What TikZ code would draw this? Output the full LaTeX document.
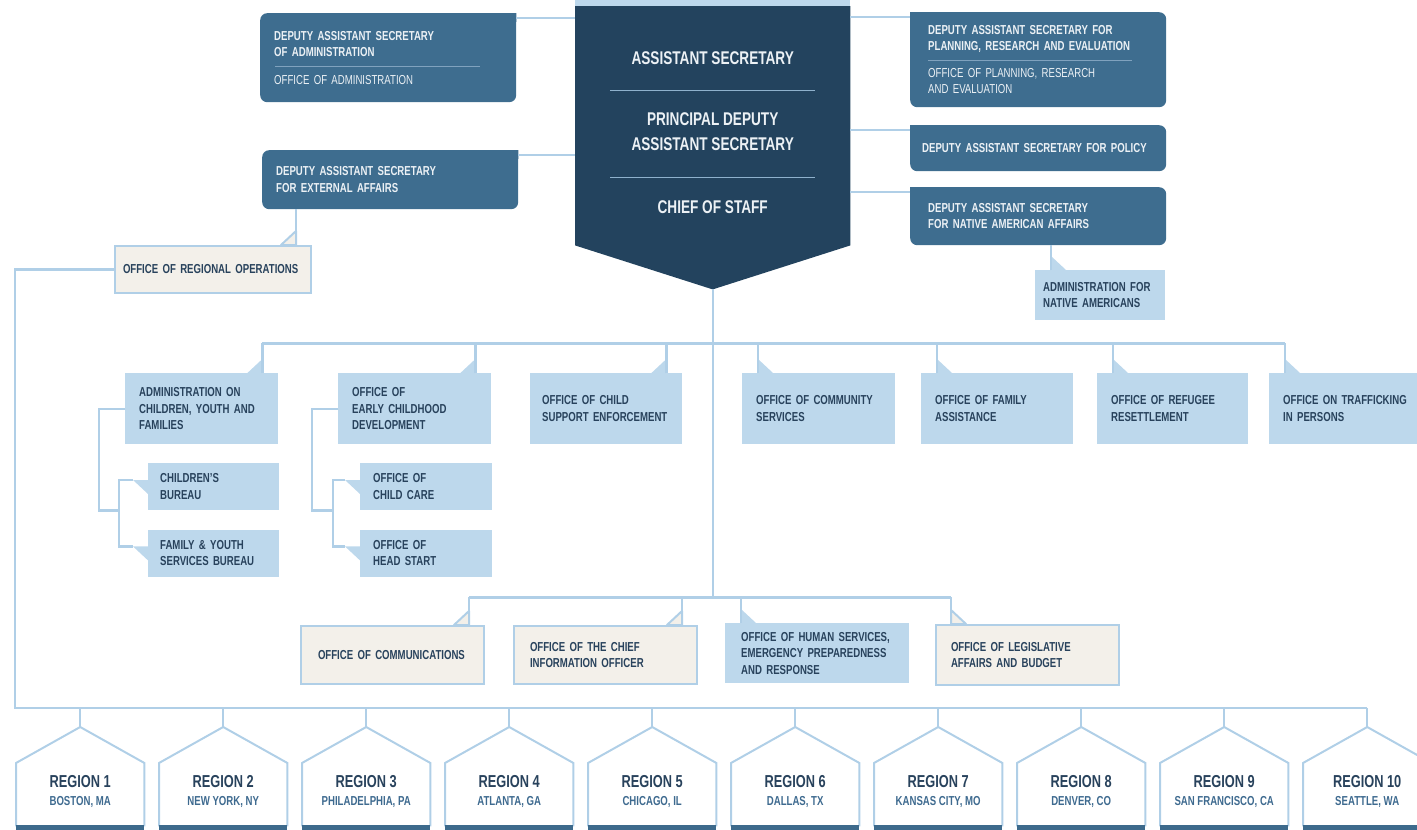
\documentclass[tikz,border=0pt]{standalone}
\usepackage{fontspec}
\setmainfont{Liberation Sans}[FakeStretch=0.74]
\usepackage{tikz}
\usetikzlibrary{positioning, calc}
\definecolor{hubnavy}{RGB}{35,67,94}
\definecolor{dasblue}{RGB}{62,109,143}
\definecolor{lightbox}{RGB}{189,216,236}
\definecolor{linkblue}{RGB}{176,207,231}
\definecolor{cream}{RGB}{243,240,234}
\definecolor{darktext}{RGB}{40,66,92}
\definecolor{citytext}{RGB}{62,106,143}
\definecolor{paletext}{RGB}{236,241,245}
\definecolor{dasrule}{RGB}{128,162,190}
\definecolor{hubrule}{RGB}{143,177,204}
\definecolor{barblue}{RGB}{61,106,140}
\tikzset{link/.style={draw=linkblue, line width=2.4pt}}
\tikzset{box/.style 2 args={anchor=north west, minimum width=#1, minimum height=#2,
    text width=#1-28pt, inner xsep=14pt, inner ysep=0pt, align=left,
    font=\bfseries\fontsize{13}{16.5}\selectfont}}
\tikzset{deputy box/.style={fill=dasblue, text=paletext, rounded corners=7pt}}
\tikzset{office box/.style={fill=lightbox, text=darktext}}
\tikzset{staff box/.style={fill=cream, text=darktext, draw=linkblue, line width=2pt}}
\tikzset{hub text/.style={text=paletext, align=center, font=\bfseries\fontsize{18.4}{25}\selectfont}}
\tikzset{inner rule/.style={draw=dasrule, line width=0.8pt}}
\tikzset{tail light/.style={fill=lightbox}}
\tikzset{tail cream/.style={fill=cream, draw=linkblue, line width=2pt, line join=round}}
\tikzset{house/.style={anchor=north west, minimum width=128pt, minimum height=63pt, inner sep=0pt}}
\tikzset{roof/.style={draw=linkblue, line width=2pt}}
\tikzset{region title/.style={text=darktext, font=\bfseries\fontsize{17.3}{19}\selectfont}}
\tikzset{region city/.style={text=citytext, font=\bfseries\fontsize{13}{15}\selectfont}}

\begin{document}
\begin{tikzpicture}[x=1pt, y=-1pt]
    \useasboundingbox (0,0) rectangle (1417,830);

    % assistant secretary
    \node[box={275pt}{239pt}] (hub) at (575,6) {};
    \coordinate (hub-tip) at ([yshift=-44pt]hub.south);
    \fill[lightbox] (hub.north west) rectangle ++(275,-6);
    \fill[hubnavy] (hub.north west) -- (hub.north east) -- (hub.south east)
        -- (hub-tip) -- (hub.south west) -- cycle;
    \node[hub text] (hub-as) at ([yshift=-52pt]hub.north) {ASSISTANT SECRETARY};
    \node[hub text] (hub-pdas) at ([yshift=-126pt]hub.north) {PRINCIPAL DEPUTY\\ASSISTANT SECRETARY};
    \node[hub text] (hub-cos) at ([yshift=-201pt]hub.north) {CHIEF OF STAFF};
    \draw[inner rule, draw=hubrule] ([xshift=35pt, yshift=-84pt]hub.north west) -- ++(205,0);
    \draw[inner rule, draw=hubrule] ([xshift=35pt, yshift=-171pt]hub.north west) -- ++(205,0);

    % deputy assistant secretaries
    \node[box={256pt}{89pt}, deputy box] (adm) at (260,13)
        {DEPUTY ASSISTANT SECRETARY\\OF ADMINISTRATION\\[11pt]{\mdseries OFFICE OF ADMINISTRATION}};
    \node[box={256pt}{59pt}, deputy box] (ext) at (262,150)
        {DEPUTY ASSISTANT SECRETARY\\FOR EXTERNAL AFFAIRS};
    \node[box={256pt}{95pt}, deputy box, inner xsep=18pt, text width=220pt] (prd) at (910,12)
        {DEPUTY ASSISTANT SECRETARY FOR\\PLANNING, RESEARCH AND EVALUATION\\[10pt]{\mdseries OFFICE OF PLANNING, RESEARCH}\\{\mdseries AND EVALUATION}};
    \node[box={256pt}{46pt}, deputy box, inner xsep=12pt, text width=232pt] (pol) at (910,125)
        {DEPUTY ASSISTANT SECRETARY FOR POLICY};
    \node[box={256pt}{58pt}, deputy box, inner xsep=18pt, text width=220pt] (naa) at (910,187)
        {DEPUTY ASSISTANT SECRETARY\\FOR NATIVE AMERICAN AFFAIRS};
    \draw[inner rule] ([xshift=15pt, yshift=-53pt]adm.north west) -- ++(205,0);
    \draw[inner rule] ([xshift=18pt, yshift=-48pt]prd.north west) -- ++(204,0);

    \foreach \n/\a/\b/\s in {adm/north east/west/1, ext/north east/west/1,
        prd/north west/east/-1, pol/north west/east/-1, naa/north west/east/-1} {
        \fill[dasblue] (\n.\a) -- ++({-9*\s},0) -- ++({9*\s},9) -- cycle;
        \coordinate (\n-c) at ([yshift=-5pt]\n.\a);
        \draw[link] (\n-c) -- (\n-c -| hub.\b);
    }

    \node[box={196pt}{47pt}, staff box, inner xsep=8pt, text width=180pt] (oro) at (114,245)
        {OFFICE OF REGIONAL OPERATIONS};
    \node[box={130pt}{50pt}, office box, inner xsep=8pt, text width=114pt] (ana) at (1035,270)
        {ADMINISTRATION FOR\\NATIVE AMERICANS};

    % program offices
    \node[box={153pt}{71pt}, office box] (acyf) at (125,373) {ADMINISTRATION ON\\CHILDREN, YOUTH AND\\FAMILIES};
    \node[box={153pt}{71pt}, office box] (ecd) at (338,373) {OFFICE OF\\EARLY CHILDHOOD\\DEVELOPMENT};
    \node[box={152pt}{71pt}, office box, inner xsep=12pt, text width=128pt] (cse) at (530,373) {OFFICE OF CHILD\\SUPPORT ENFORCEMENT};
    \node[box={153pt}{71pt}, office box] (ocs) at (742,373) {OFFICE OF COMMUNITY\\SERVICES};
    \node[box={152pt}{71pt}, office box] (ofa) at (921,373) {OFFICE OF FAMILY\\ASSISTANCE};
    \node[box={151pt}{71pt}, office box] (orr) at (1097,373) {OFFICE OF REFUGEE\\RESETTLEMENT};
    \node[box={160pt}{71pt}, office box] (otip) at (1269,373) {OFFICE ON TRAFFICKING\\IN PERSONS};

    \node[box={131pt}{47pt}, office box, inner xsep=12pt, text width=107pt] (cb) at (148,463) {CHILDREN'S\\BUREAU};
    \node[box={131pt}{47pt}, office box, inner xsep=12pt, text width=107pt, below=19pt of cb] (fy) {FAMILY \& YOUTH\\SERVICES BUREAU};
    \node[box={132pt}{47pt}, office box, inner xsep=13pt, text width=106pt] (cc) at (360,463) {OFFICE OF\\CHILD CARE};
    \node[box={132pt}{47pt}, office box, inner xsep=13pt, text width=106pt, below=19pt of cc] (hs) {OFFICE OF\\HEAD START};

    % staff offices
    \node[box={183pt}{58pt}, staff box, inner xsep=17pt, text width=149pt] (oc) at (300,625) {OFFICE OF COMMUNICATIONS};
    \node[box={183pt}{58pt}, staff box, inner xsep=16pt, text width=151pt] (ocio) at (513,625) {OFFICE OF THE CHIEF\\INFORMATION OFFICER};
    \node[box={184pt}{60pt}, office box, inner xsep=16pt, text width=152pt] (ohs) at (725,623) {OFFICE OF HUMAN SERVICES,\\EMERGENCY PREPAREDNESS\\AND RESPONSE};
    \node[box={183pt}{60pt}, staff box, inner xsep=15pt, text width=153pt] (olab) at (935,624) {OFFICE OF LEGISLATIVE\\AFFAIRS AND BUDGET};

    % tails
    \foreach \n/\t in {oro/tail cream, acyf/tail light, ecd/tail light, cse/tail light, oc/tail cream, ocio/tail cream}
        \path[\t] ([xshift=-16pt]\n.north east) coordinate (\n-t) -- ++(0,-14) -- ++(-15,14) -- cycle;
    \foreach \n/\t in {ana/tail light, ocs/tail light, ofa/tail light, orr/tail light, otip/tail light, ohs/tail light, olab/tail cream}
        \path[\t] ([xshift=16pt]\n.north west) coordinate (\n-t) -- ++(0,-14) -- ++(15,14) -- cycle;
    \foreach \n in {cb, fy, cc, hs}
        \path[tail light] ([yshift=-17pt]\n.north west) -- ++(-15,0) coordinate (\n-t) -- ++(15,14) -- cycle;

    % connectors
    \draw[link] (oro-t) -- (oro-t |- ext.south);
    \draw[link] (ana-t) -- (ana-t |- naa.south);
    \path (hub-tip) ++(0,54) coordinate (mbus) ++(0,254) coordinate (lbus);
    \draw[link] (hub-tip) -- (lbus);
    \draw[link] (acyf-t |- mbus) -- (otip-t |- mbus);
    \foreach \n in {acyf, ecd, cse, ocs, ofa, orr, otip}
        \draw[link] (\n-t) -- (\n-t |- mbus);
    \draw[link] (oc-t |- lbus) -- (olab-t |- lbus);
    \foreach \n in {oc, ocio, ohs, olab}
        \draw[link] (\n-t) -- (\n-t |- lbus);

    \coordinate (acyf-j) at ([xshift=-29pt]cb.south west);
    \coordinate (ecd-j) at ([xshift=-27pt]cc.south west);
    \draw[link] (acyf.west) -- ++(-26,0) |- (acyf-j);
    \draw[link] (cb-t) -| (acyf-j) |- (fy-t);
    \draw[link] (ecd.west) -- ++(-26,0) |- (ecd-j);
    \draw[link] (cc-t) -| (ecd-j) |- (hs-t);

    % regions
    \coordinate (rbus) at (15,708);
    \foreach \i/\city in {1/{BOSTON, MA}, 2/{NEW YORK, NY}, 3/{PHILADELPHIA, PA}, 4/{ATLANTA, GA},
        5/{CHICAGO, IL}, 6/{DALLAS, TX}, 7/{KANSAS CITY, MO}, 8/{DENVER, CO},
        9/{SAN FRANCISCO, CA}, 10/{SEATTLE, WA}} {
        \node[house] (reg\i) at ({16+143*(\i-1)},763) {};
        \coordinate (peak\i) at ([yshift=36pt]reg\i.north);
        \draw[roof] (reg\i.south west) -- (reg\i.north west) -- (peak\i) -- (reg\i.north east) -- (reg\i.south east);
        \fill[barblue] ([yshift=1pt]reg\i.south west) rectangle ([yshift=-8pt]reg\i.south east);
        \node[region title] (reg\i-t) at ([yshift=-19pt]reg\i.north) {REGION \i};
        \node[region city] (reg\i-c) at ([yshift=-39pt]reg\i.north) {\city};
        \draw[link] (peak\i) -- (peak\i |- rbus);
    }
    \draw[link] (oro.west) -| (rbus) -- (rbus -| peak10);
\end{tikzpicture}
\end{document}
